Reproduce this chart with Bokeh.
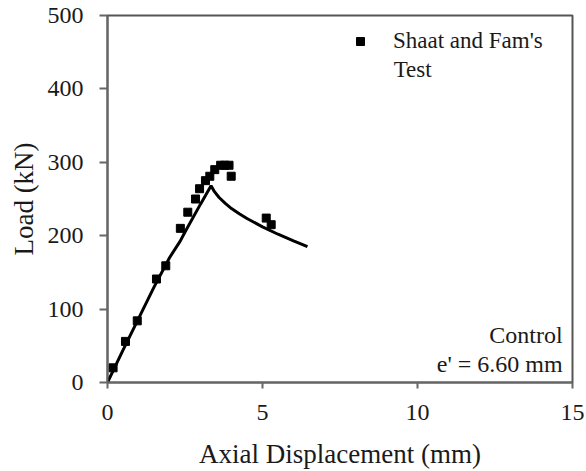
from bokeh.plotting import figure
from bokeh.models import Legend, LegendItem, Label, Range1d, FixedTicker
from bokeh.core.properties import value
from bokeh.embed import file_html
from bokeh.resources import INLINE

# Measured test points (axial displacement in mm, load in kN)
test_disp = [0.18, 0.58, 0.96, 1.58, 1.88, 2.35, 2.59, 2.84, 2.97, 3.16,
             3.30, 3.46, 3.65, 3.78, 3.92, 3.99, 5.12, 5.28]
test_load = [20, 56, 84, 141, 159, 210, 232, 250, 264, 275,
             281, 290, 296, 296, 296, 281, 224, 215]

# Predicted load-displacement curve
model_disp = [0.0, 0.5, 1.0, 1.5, 2.0, 2.35, 2.5, 3.0, 3.34,
              3.45, 3.6, 3.8, 4.0, 4.25, 4.5, 5.0, 5.5, 6.0, 6.45]
model_load = [0, 44, 87, 130, 170, 193, 205, 243, 268,
              260, 252, 244, 237, 230, 223.5, 212, 202, 193, 185]

x_ticks = [0, 5, 10, 15]
y_ticks = [0, 100, 200, 300, 400, 500]

FONT = "Liberation Serif"
AXIS_GREY = "#666666"
TEXT_COLOR = "#1a1a1a"

p = figure(width=586, height=471, output_backend="svg", toolbar_location=None,
           x_range=Range1d(0, 15), y_range=Range1d(0, 500),
           min_border_left=107, min_border_right=14,
           min_border_top=15, min_border_bottom=89)

p.xgrid.visible = False
p.ygrid.visible = False
p.outline_line_color = "#555555"
p.outline_line_width = 2
p.background_fill_color = "white"
p.border_fill_color = "white"

p.xaxis.ticker = FixedTicker(ticks=x_ticks)
p.yaxis.ticker = FixedTicker(ticks=y_ticks)

for ax in (p.xaxis[0], p.yaxis[0]):
    ax.axis_line_color = AXIS_GREY
    ax.axis_line_width = 2
    ax.major_tick_line_color = AXIS_GREY
    ax.major_tick_line_width = 2
    ax.major_tick_in = 0
    ax.minor_tick_line_color = None
    ax.major_label_text_font = FONT
    ax.major_label_text_font_size = "24px"
    ax.major_label_text_color = TEXT_COLOR
    ax.axis_label_text_font = FONT
    ax.axis_label_text_font_size = "27px"
    ax.axis_label_text_font_style = "normal"
    ax.axis_label_text_color = TEXT_COLOR

p.xaxis.major_tick_out = 6
p.yaxis.major_tick_out = 8
p.xaxis.major_label_standoff = 16
p.yaxis.major_label_standoff = 16
p.xaxis.axis_label = "Axial Displacement (mm)"
p.yaxis.axis_label = "Load (kN)"
p.xaxis.axis_label_standoff = 16
p.yaxis.axis_label_standoff = 6

p.line(model_disp, model_load, line_color="black", line_width=3)
pts = p.scatter(test_disp, test_load, marker="square", size=8,
                fill_color="black", line_color="black")

legend = Legend(items=[LegendItem(label="Shaat and Fam's", renderers=[pts])],
                location=(243, 328), padding=0, margin=0, spacing=0,
                glyph_width=20, glyph_height=20, label_standoff=23,
                label_text_font=FONT, label_text_font_size="23px",
                label_text_font_style="normal",
                label_text_color=TEXT_COLOR,
                border_line_alpha=0, background_fill_alpha=0)
p.add_layout(legend)

# second line of the legend entry
p.text(x=[9.23], y=[426], text=["Test"], text_font=value(FONT),
       text_font_size="23px", text_color=TEXT_COLOR,
       text_baseline="alphabetic", text_align="left")

p.add_layout(Label(x=14.68, y=65, text="Control", text_font=FONT,
                   text_font_size="24px", text_color=TEXT_COLOR,
                   text_font_style="normal",
                   text_baseline="alphabetic", text_align="right"))
p.add_layout(Label(x=14.68, y=25, text="e' = 6.60 mm", text_font=FONT,
                   text_font_size="24px", text_color=TEXT_COLOR,
                   text_font_style="normal",
                   text_baseline="alphabetic", text_align="right"))

open("out.html", "w").write(file_html(p, INLINE))
